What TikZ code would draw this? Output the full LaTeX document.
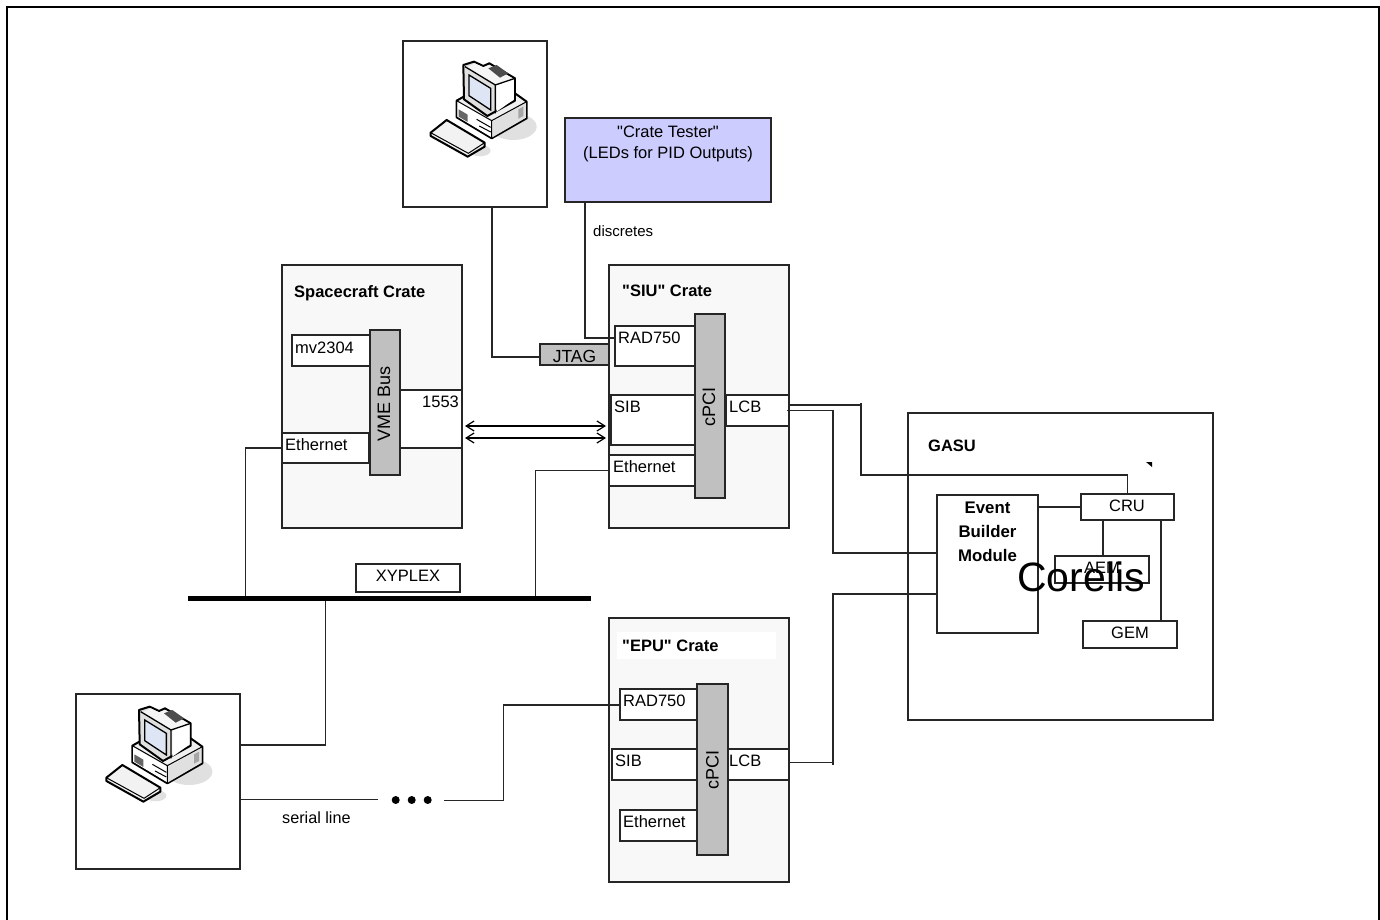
\documentclass[tikz,border=0pt]{standalone}
\usepackage{fontspec}
\setmainfont{Liberation Sans}
\newfontfamily\plainfont{Liberation Sans}
\usetikzlibrary{arrows.meta}

\definecolor{cratefill}{HTML}{F8F8F8}
\definecolor{busfill}{HTML}{C0C0C0}
\definecolor{testerfill}{HTML}{CCCCFF}
\definecolor{screenfill}{HTML}{DEE6F5}

\newcommand{\qt}{{\plainfont\symbol{34}}}

\tikzset{
    computer/.pic={
        \begin{scope}[x=0.3333pt,y=-0.3333pt]
        \fill[black!12] (340,290) ellipse [x radius=70,y radius=40];
        \fill[black!12] (240,362) ellipse [x radius=32,y radius=17];
        % base
        \filldraw[line width=2pt,line join=round,fill=black!6] (170,212) -- (200,195) -- (345,190) -- (380,215) -- (380,265) -- (275,325) -- (170,262) -- cycle;
        \fill[white] (172,216) -- (275,276) -- (275,322) -- (172,260) -- cycle;
        \fill[black!12] (277,276) -- (378,218) -- (378,263) -- (277,322) -- cycle;
        \draw[line width=1pt] (170,212) -- (275,272) -- (380,215) (275,272) -- (275,325);
        \fill[black!60] (176,238) -- (203,254) -- (203,276) -- (176,260) -- cycle;
        \draw[line width=1pt] (230,268) -- (272,292) (238,288) -- (272,306);
        \fill[black!35] (355,238) -- (370,230) -- (370,258) -- (355,266) -- cycle;
        % monitor
        \filldraw[line width=2pt,line join=round,fill=black!12] (190,105) -- (222,95) -- (250,108) -- (268,100) -- (345,145) -- (345,212) -- (262,258) -- (192,208) -- cycle;
        \fill[white] (290,165) -- (342,148) -- (342,208) -- (290,245) -- cycle;
        \fill[black!4] (200,112) -- (225,100) -- (250,112) -- (268,105) -- (340,146) -- (286,165) -- cycle;
        \fill[black!70] (265,115) -- (290,105) -- (325,130) -- (300,143) -- cycle;
        \draw[line width=1.3pt] (195,110) -- (286,165) -- (286,250) (286,165) -- (345,145);
        \filldraw[line width=1.3pt,fill=screenfill] (207,135) -- (272,175) -- (272,240) -- (207,197) -- cycle;
        % keyboard
        \filldraw[line width=2pt,line join=round,fill=black!5] (92,308) -- (140,270) -- (254,338) -- (254,350) -- (203,380) -- (92,318) -- cycle;
        \draw[line width=1pt] (92,308) -- (205,370) -- (254,338);
        \end{scope}
    }
}

\begin{document}
\begin{tikzpicture}[
    x=1pt, y=-1pt,
    >=Latex,
    every node/.style={font=\fontsize{16.5}{20}\selectfont},
    wh/.style 2 args={minimum width=#1, minimum height=#2},
    block/.style={draw, anchor=north west, inner sep=0pt, outer sep=0pt, line width=1.2pt, black!85},
    crate/.style={block, fill=cratefill},
    card/.style={block, fill=white},
    bus/.style={block, fill=busfill},
    lbl/.style={anchor=west, inner sep=0pt, black},
    centred/.style={anchor=center, inner sep=0pt, black},
    busname/.style={centred, rotate=90, font=\fontsize{18}{20}\selectfont},
    title/.style={anchor=west, inner sep=0pt, font=\fontsize{16.5}{20}\selectfont\bfseries, black},
    line/.style={line width=1.2pt, black!85},
    both/.style={{Straight Barb[length=8pt,width=10pt]}-{Straight Barb[length=8pt,width=10pt]}, line width=1.2pt, black}
]
\useasboundingbox (0,0) rectangle (1380,920);

% Frame
\node[block, wh={1372}{930}, line width=2.5pt, black] (frame) at (7,7) {};

% Computers
\node[block, fill=white, wh={144}{166}] (pctop) at (403,41) {};
\pic at (400,30) {computer};
\node[block, fill=white, wh={164}{175}] (pcbottom) at (76,694) {};
\pic at (75.7,675) {computer};

% Crate tester
\node[block, fill=testerfill, wh={206}{84}] (tester) at (565,118) {};
\node[centred, align=center, font=\fontsize{16.5}{21}\selectfont] (testertxt) at (668,144) {\qt Crate Tester\qt\\(LEDs for PID Outputs)};

% Spacecraft crate
\node[crate, wh={180}{263}] (sccrate) at (282,265) {};
\node[title] (sctitle) at (294,293) {Spacecraft Crate};
\node[card, wh={78}{31}] (mv) at (292,335) {};
\node[lbl] (mvtxt) at (295,348) {mv2304};
\node[card, draw=none, wh={62}{58}] (milbus) at (400,390) {};
\draw[line] (milbus.north west) -- (milbus.north east) -- (milbus.south east) -- (milbus.south west);
\node[lbl] (miltxt) at (422,402) {1553};
\node[card, wh={87}{30}] (sceth) at (282,433) {};
\node[lbl] (scethtxt) at (285,445) {Ethernet};
\node[bus, wh={30}{145}] (vme) at (370,330) {};
\node[busname] (vmetxt) at (384,404) {VME Bus};

% SIU crate
\node[crate, wh={180}{263}] (siucrate) at (609,265) {};
\node[title] (siutitle) at (622,291) {\qt SIU\qt\ Crate};
\node[card, wh={80}{40}] (siurad) at (615,326) {};
\node[lbl] (siuradtxt) at (618,338) {RAD750};
\node[card, wh={84}{50}] (siusib) at (611,395) {};
\node[lbl] (siusibtxt) at (614,407) {SIB};
\node[card, wh={86}{31}] (siueth) at (609,455) {};
\node[lbl] (siuethtxt) at (613,467) {Ethernet};
\node[card, wh={63}{31}] (siulcb) at (726,395) {};
\node[lbl] (siulcbtxt) at (729,407) {LCB};
\node[bus, wh={30}{184}] (siubus) at (695,314) {};
\node[busname] (siubustxt) at (709,407) {cPCI};
\node[bus, wh={69}{21}] (jtag) at (540,344) {};
\node[centred, font=\fontsize{17.5}{20}\selectfont] (jtagtxt) at (574.5,356) {JTAG};

% EPU crate
\node[crate, wh={180}{264}] (epucrate) at (609,618) {};
\node[fill=white, anchor=north west, inner sep=0pt, wh={159}{27}] (epupatch) at (617,632) {};
\node[title] (eputitle) at (622,646) {\qt EPU\qt\ Crate};
\node[card, wh={77}{31}] (epurad) at (620,689) {};
\node[lbl] (epuradtxt) at (623,701) {RAD750};
\node[card, wh={85}{31}] (epusib) at (612,749) {};
\node[lbl] (epusibtxt) at (615,761) {SIB};
\node[card, wh={77}{31}] (epueth) at (620,810) {};
\node[lbl] (epuethtxt) at (623,822) {Ethernet};
\node[card, wh={61}{31}] (epulcb) at (728,749) {};
\node[lbl] (epulcbtxt) at (729,761) {LCB};
\node[bus, wh={31}{171}] (epubus) at (697,684) {};
\node[busname] (epubustxt) at (712.5,770) {cPCI};

% GASU
\node[block, fill=white, wh={305}{307}] (gasu) at (908,413) {};
\node[title] (gasutitle) at (928,446) {GASU};
\node[block, fill=white, wh={101}{138}] (evb) at (937,495) {};
\node[anchor=north, align=center, inner sep=0pt, font=\fontsize{16.8}{23.7}\selectfont\bfseries, black] (evbtxt) at (987.5,502) {Event\\Builder\\Module};
\node[card, wh={93}{26}] (cru) at (1081,494) {};
\node[centred] (crutxt) at (1127,506) {CRU};
\node[card, wh={94}{27}] (aem) at (1055,556) {};
\node[centred] (aemtxt) at (1102,568) {AEM};
\node[card, wh={94}{27}] (gem) at (1083,621) {};
\node[centred] (gemtxt) at (1130,633) {GEM};
\node[lbl, font=\fontsize{41}{44}\selectfont] (corelis) at (1017,577) {Corelis};
\coordinate (marktip) at (1152,467);
\fill (marktip) -- ++(-6,-5) -- ++(6,0) -- cycle;

% Ethernet bar
\node[fill=black, anchor=north west, inner sep=0pt, wh={403}{5}] (bar) at (188,596) {};
\node[block, fill=white, wh={104}{28}] (xyplex) at (356,564) {};
\node[centred] (xyplextxt) at (408,576) {XYPLEX};

% Arrows
\draw[line] ([xshift=17pt]pctop.south) |- ([yshift=-2.5pt]jtag.west);
\draw[line] ([xshift=-83pt]tester.south) |- (siuradtxt.west -| siurad.west);
\node[lbl, font=\fontsize{15}{18}\selectfont] (discretes) at (593,231) {discretes};

\draw[both] ([yshift=-29.5pt,xshift=3pt]sccrate.east) -- ([yshift=-29.5pt,xshift=-3pt]siucrate.west);
\draw[both] ([yshift=-41.5pt,xshift=3pt]sccrate.east) -- ([yshift=-41.5pt,xshift=-3pt]siucrate.west);

\draw[line] (sceth.west) -| ([xshift=-144.5pt]bar.north);
\draw[line] (siueth.west) -| ([xshift=145.5pt]bar.north);
\draw[line] ([xshift=-64.5pt]bar.south) |- ([yshift=36.5pt]pcbottom.east);

\foreach \dotx/\dotname in {395.7/dotone, 411.7/dottwo, 427.7/dotthree} {
    \node[circle, fill=black, inner sep=0pt, minimum size=8pt] (\dotname) at (\dotx,800) {};
}
\draw[line] ([yshift=-18pt]pcbottom.east) -- ([xshift=-13.7pt,yshift=0.5pt]dotone.west);
\node[lbl, font=\fontsize{16.2}{18}\selectfont] (serial) at (282,818) {serial line};
\draw[line] ([xshift=12.3pt,yshift=-0.5pt]dotthree.east) -- ++(59,0) |- ([yshift=-0.5pt]epurad.west);

\draw[line] ([yshift=5.5pt]siulcb.east) -- ++(72,0) coordinate (lcbbend) |- ([yshift=19pt]cru.north) -- (cru.north);
\draw[line] (lcbbend) -- ++(0,-2);
\draw[line] ([xshift=-2pt]siulcb.east) -- ++(46,0) |- ([yshift=11pt]evb.west);
\draw[line] ([yshift=2pt]epulcb.east) -- ++(44,0) coordinate (epubend) |- ([yshift=-30pt]evb.west);
\draw[line] (epubend) -- ++(0,2);
\draw[line] ([yshift=-12pt]evb.north east) -- (cru.west);
\draw[line] ([xshift=-24.5pt]cru.south) -- ([xshift=1pt]aem.north);
\draw[line] ([xshift=33.5pt]cru.south) -- ([xshift=31pt]gem.north);

\end{tikzpicture}
\end{document}
